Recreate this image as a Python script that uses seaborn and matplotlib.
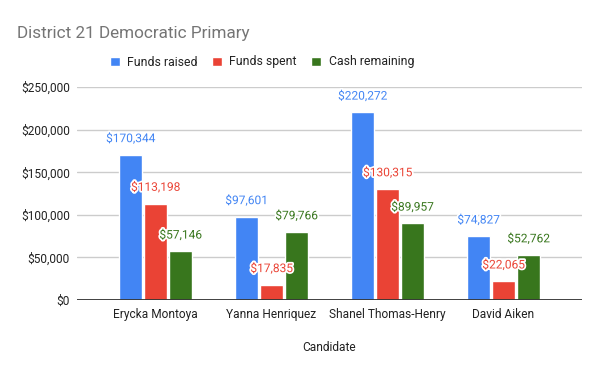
import pandas as pd
import seaborn as sns
import matplotlib.pyplot as plt
import matplotlib.patheffects as pe

# chart data
candidates = ["Erycka Montoya", "Yanna Henriquez", "Shanel Thomas-Henry", "David Aiken"]
funds_raised = [170344, 97601, 220272, 74827]
funds_spent = [113198, 17835, 130315, 22065]
cash_remaining = [57146, 79766, 89957, 52762]
series_names = ["Funds raised", "Funds spent", "Cash remaining"]
y_ticks = [0, 50000, 100000, 150000, 200000, 250000]

colors = ["#4285F4", "#EA4335", "#38761D"]

# long-form table for seaborn
rows = []
for name, vals in zip(series_names, [funds_raised, funds_spent, cash_remaining]):
    for cand, v in zip(candidates, vals):
        rows.append({"Candidate": cand, "Metric": name, "Value": v})
df = pd.DataFrame(rows)

sns.set_theme(style="white")
plt.rcParams["font.family"] = ["Roboto", "DejaVu Sans"]

fig = plt.figure(figsize=(6, 3.71), dpi=100)
ax = fig.add_axes([77 / 600, 1 - 300 / 371, 505 / 600, 213 / 371])

sns.barplot(data=df, x="Candidate", y="Value", hue="Metric", palette=colors,
            width=0.647, gap=0.08, saturation=1, errorbar=None, ax=ax)

# move the legend up to the figure
handles, labels = ax.get_legend_handles_labels()
ax.legend_.remove()
fig.legend(handles, labels, loc="center", bbox_to_anchor=(262 / 600, 1 - 62 / 371),
           ncol=3, frameon=False, fontsize=8.8, handlelength=0.8, handleheight=0.8,
           handletextpad=0.6, columnspacing=1.2, labelcolor="#222222")

# value labels with white halo
for cont, col in zip(ax.containers, colors):
    ax.bar_label(cont, labels=["${:,.0f}".format(b.get_height()) for b in cont],
                 padding=7, color=col, fontsize=8.6,
                 path_effects=[pe.withStroke(linewidth=2.5, foreground="white")])

ax.set_ylim(0, 250000)
ax.set_xlim(-0.677, 3.677)
ax.set_yticks(y_ticks)
ax.set_yticklabels(["${:,}".format(t) for t in y_ticks])
ax.yaxis.grid(True, color="#cccccc", linewidth=1)
ax.set_axisbelow(True)
ax.axhline(0, color="#333333", linewidth=1.3, zorder=5)
for s in ax.spines.values():
    s.set_visible(False)
ax.tick_params(axis="both", length=0, labelsize=8.6, labelcolor="#222222")
ax.tick_params(axis="x", pad=6)
ax.tick_params(axis="y", pad=5)
ax.set_ylabel("")
ax.set_xlabel("Candidate", fontsize=8.6, color="#222222", labelpad=14)

fig.text(17 / 600, 1 - 38 / 371, "District 21 Democratic Primary", fontsize=12.3,
         color="#757575", ha="left", va="baseline")

plt.savefig("out.png", dpi=100)
